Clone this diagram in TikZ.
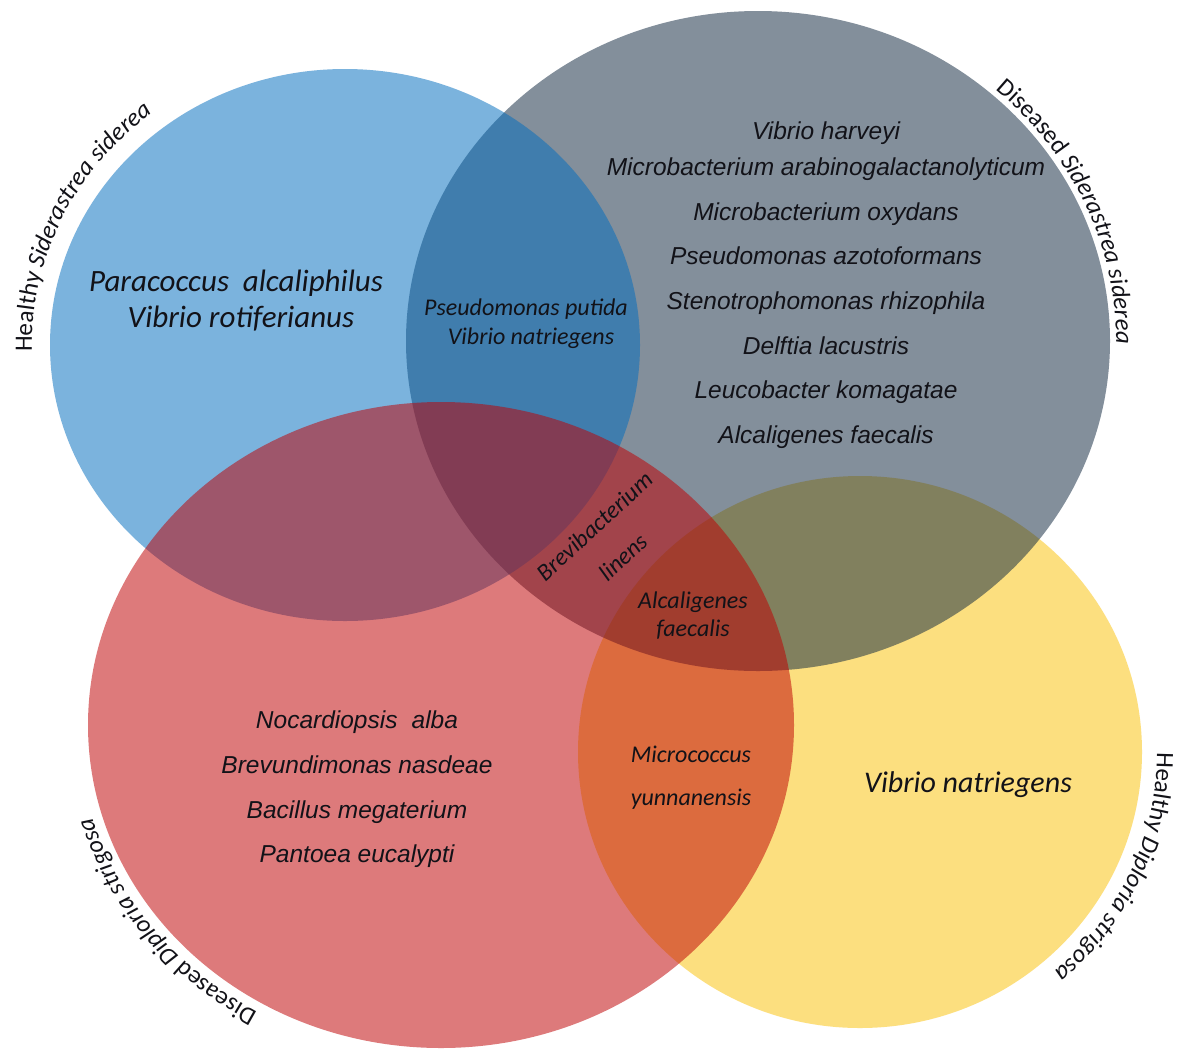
\documentclass[tikz,border=0pt]{standalone}
\usepackage{fontspec}
\setmainfont{Carlito}
\newfontfamily\arialf{Liberation Sans}
\usetikzlibrary{decorations.text,calc}
\definecolor{cblue}{RGB}{3,110,190}
\definecolor{cgray}{RGB}{18,41,65}
\definecolor{cred}{RGB}{191,1,3}
\definecolor{cyellow}{RGB}{251,194,11}
\definecolor{ink}{RGB}{18,18,24}
\newcommand\lab{\fontsize{25}{25}\selectfont\color{ink}}
\begin{document}
\begin{tikzpicture}[x=1pt,y=1pt,
  setfill/.style={fill opacity=0.52, draw=none},
  alist/.style={font=\arialf\itshape\fontsize{24.5}{29}\selectfont, text=ink, inner sep=0pt, anchor=base},
  clab/.style={font=\itshape\fontsize{#1}{#1}\selectfont, text=ink, inner sep=0pt, anchor=base},
  rlab/.style={font=\itshape\fontsize{24}{42}\selectfont, text=ink, inner sep=0pt, rotate=42.6, align=center}
]
\useasboundingbox (0,-1050) rectangle (1183,0);
\fill[white] (0,-1050) rectangle (1183,0);

\coordinate (cY) at (860,-752);
\coordinate (cG) at (758,-341);
\coordinate (cB) at (345,-345);
\coordinate (cR) at (441,-725);

% sets
\fill[cyellow, setfill] (cY) ellipse [x radius=282pt, y radius=276pt];
\fill[cgray, setfill] (cG) ellipse [x radius=352pt, y radius=330pt];
\fill[cblue, setfill] (cB) ellipse [x radius=295pt, y radius=276pt];
\fill[cred, setfill] (cR) ellipse [x radius=353pt, y radius=323pt];

% set titles along the circles
\path[decorate, decoration={text along path, text align=center,
  text={|\lab|Healthy |\lab\itshape|Siderastrea siderea}}]
  ($(cB)+(200:313pt and 294pt)$) arc[start angle=200, end angle=110, x radius=313pt, y radius=294pt];
\path[decorate, decoration={text along path, text align=center,
  text={|\lab|Diseased |\lab\itshape|Siderastrea siderea}}]
  ($(cG)+(68.5:358pt and 336pt)$) arc[start angle=68.5, end angle=-21.5, x radius=358pt, y radius=336pt];
\path[decorate, decoration={text along path, text align=center,
  text={|\lab|Diseased |\lab\itshape|Diploria strigosa}}]
  ($(cR)+(262:363pt and 333pt)$) arc[start angle=262, end angle=172, x radius=363pt, y radius=333pt];
\path[decorate, decoration={text along path, text align=center,
  text={|\lab|Healthy |\lab\itshape|Diploria strigosa}}]
  ($(cY)+(21:297pt and 291pt)$) arc[start angle=21, end angle=-70, x radius=297pt, y radius=291pt];

% blue only
\node[clab=31] (b1) at (236,-291) {Paracoccus\hspace{0.22em} alcaliphilus};
\node[clab=31] (b2) at (241,-327) {Vibrio rotiferianus};
% blue & gray
\node[clab=24] (bg1) at (526,-315) {Pseudomonas putida};
\node[clab=24] (bg2) at (531,-344) {Vibrio natriegens};

% gray only
\node[alist] (g1) at (826,-139) {Vibrio harveyi};
\node[alist] (g2) at (826,-175) {Microbacterium arabinogalactanolyticum};
\node[alist] (g3) at (826,-220) {Microbacterium oxydans};
\node[alist] (g4) at (826,-264) {Pseudomonas azotoformans};
\node[alist] (g5) at (826,-309) {Stenotrophomonas rhizophila};
\node[alist] (g6) at (826,-354) {Delftia lacustris};
\node[alist] (g7) at (826,-398) {Leucobacter komagatae};
\node[alist] (g8) at (826,-443) {Alcaligenes faecalis};

% red only
\node[alist] (r1) at (357,-728) {Nocardiopsis\hspace{0.3em} alba};
\node[alist] (r2) at (357,-773) {Brevundimonas nasdeae};
\node[alist] (r3) at (357,-818) {Bacillus megaterium};
\node[alist] (r4) at (357,-862) {Pantoea eucalypti};

% blue & gray & red / gray & red
\node[rlab] (gr) at (608.5,-541.5) {Brevibacterium\\linens};

% gray & red & yellow
\node[clab=24] (gry1) at (693,-608) {Alcaligenes};
\node[clab=24] (gry2) at (693,-636) {faecalis};

% red & yellow
\node[clab=24] (ry1) at (691,-762) {Micrococcus};
\node[clab=24] (ry2) at (691,-805) {yunnanensis};

% yellow only
\node[clab=30] (y1) at (968,-792) {Vibrio natriegens};
\end{tikzpicture}
\end{document}
